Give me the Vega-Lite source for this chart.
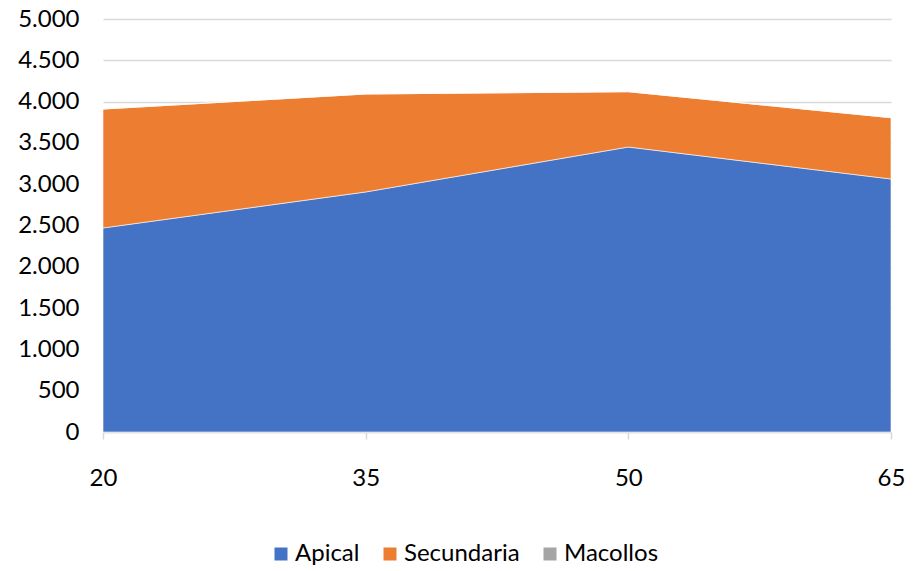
{
  "$schema": "https://vega.github.io/schema/vega-lite/v6.json",
  "autosize": "none",
  "width": 788,
  "height": 413,
  "padding": {"left": 103, "top": 19, "right": 28, "bottom": 139},
  "background": "white",
  "config": {
    "font": "Lato",
    "view": {"stroke": null}
  },
  "data": {
    "values": [
      {"dia": 20, "serie": "Apical", "orden": 1, "valor": 2470},
      {"dia": 35, "serie": "Apical", "orden": 1, "valor": 2906},
      {"dia": 50, "serie": "Apical", "orden": 1, "valor": 3450},
      {"dia": 65, "serie": "Apical", "orden": 1, "valor": 3063},
      {"dia": 20, "serie": "Secundaria", "orden": 2, "valor": 1440},
      {"dia": 35, "serie": "Secundaria", "orden": 2, "valor": 1186},
      {"dia": 50, "serie": "Secundaria", "orden": 2, "valor": 670},
      {"dia": 65, "serie": "Secundaria", "orden": 2, "valor": 742},
      {"dia": 20, "serie": "Macollos", "orden": 3, "valor": 0},
      {"dia": 35, "serie": "Macollos", "orden": 3, "valor": 0},
      {"dia": 50, "serie": "Macollos", "orden": 3, "valor": 0},
      {"dia": 65, "serie": "Macollos", "orden": 3, "valor": 0}
    ]
  },
  "mark": {"type": "area", "stroke": "white", "strokeWidth": 0.6},
  "encoding": {
    "x": {
      "field": "dia",
      "type": "quantitative",
      "scale": {"domain": [20, 65], "nice": false, "zero": false},
      "axis": {
        "title": null,
        "values": [20, 35, 50, 65],
        "grid": false,
        "labelFlush": false,
        "domainColor": "#D9D9D9",
        "domainWidth": 1.5,
        "tickColor": "#D9D9D9",
        "tickSize": 7,
        "tickWidth": 1.5,
        "labelFontSize": 24,
        "labelColor": "#000000",
        "labelPadding": 27,
        "labelFont": "Lato"
      }
    },
    "y": {
      "field": "valor",
      "type": "quantitative",
      "stack": "zero",
      "scale": {"domain": [0, 5000], "nice": false},
      "axis": {
        "title": null,
        "values": [0, 500, 1000, 1500, 2000, 2500, 3000, 3500, 4000, 4500, 5000],
        "labelExpr": "replace(format(datum.value, ','), ',', '.')",
        "domain": false,
        "ticks": false,
        "gridColor": "#D9D9D9",
        "gridWidth": 1.5,
        "labelFontSize": 24,
        "labelColor": "#000000",
        "labelPadding": 24,
        "labelFont": "Lato"
      }
    },
    "color": {
      "field": "serie",
      "type": "nominal",
      "scale": {
        "domain": ["Apical", "Secundaria", "Macollos"],
        "range": ["#4472C4", "#ED7D31", "#A5A5A5"]
      },
      "legend": {
        "title": null,
        "orient": "none",
        "direction": "horizontal",
        "legendX": 166,
        "legendY": 523,
        "symbolType": "square",
        "symbolSize": 169,
        "symbolStrokeWidth": 0,
        "labelFontSize": 24,
        "labelColor": "#000000",
        "labelFont": "Lato",
        "labelOffset": 2,
        "columnPadding": 18
      }
    },
    "order": {"field": "orden", "type": "quantitative"}
  }
}
